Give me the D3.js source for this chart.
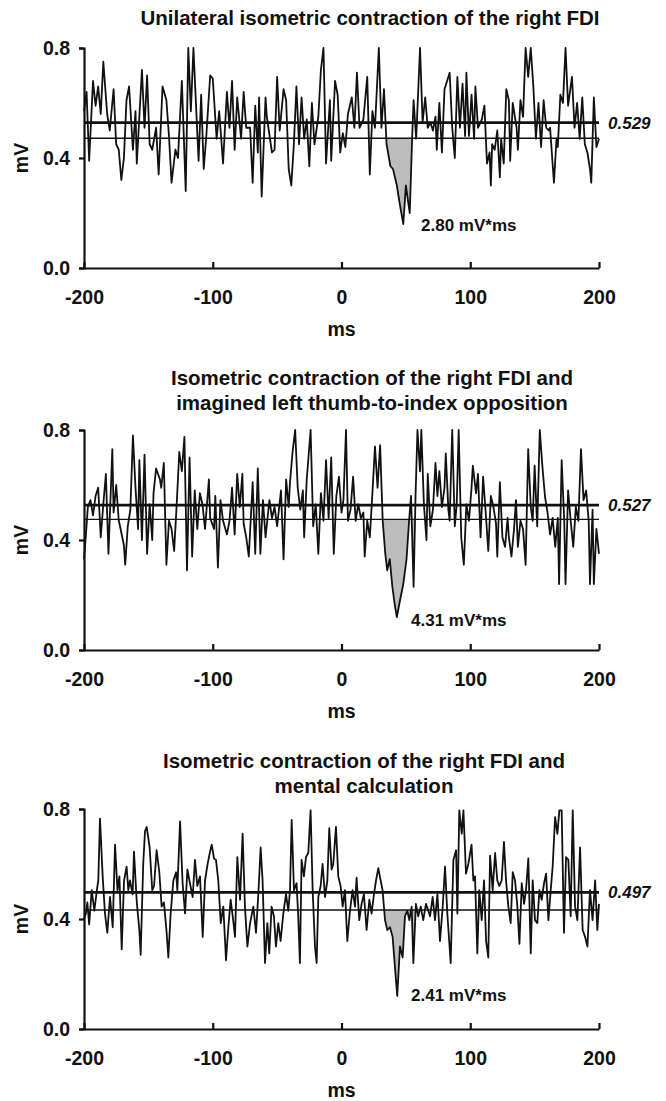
<!DOCTYPE html>
<html>
<head>
<meta charset="utf-8">
<script src="https://cdn.jsdelivr.net/npm/d3@7"></script>
<style>
  html, body { margin: 0; padding: 0; background: #fff; }
  svg { display: block; }
  text { font-family: "Liberation Sans", Arial, sans-serif; font-weight: bold; fill: #111; }
</style>
</head>
<body>
<svg id="chart" width="666" height="1101"></svg>
<script>
// ---------------- DATA ----------------
const xTicks = [-200, -100, 0, 100, 200];
const yTicks = [0.0, 0.4, 0.8];
const xLabel = "ms";
const yLabel = "mV";

// Panel 1: Unilateral isometric contraction of the right FDI
const title1 = ["Unilateral isometric contraction of the right FDI"];
const t1 = [-200,-198,-196,-193,-191,-189,-187,-185,-182,-180,-177,-175,-173,-171,-169,-167,-165,-162,-160,-159,-155,-153,-151,-149,-147,-144,-142,-139,-136,-134,-132,-129,-127,-124,-121,-119,-117,-115,-112,-111,-109,-107,-105,-102,-100,-97,-95,-92,-89,-87,-85,-83,-81,-78,-76,-74,
  -71,-69,-67,-65,-64,-62,-59,-58,-54,-52,-50,-48,-45,-43,-41,-39,-37,-35,-33,-31,-29,-27,-25,-23,-21,-18,-16,-14,-12,-9,-8,-5,-3,-1,1,3,5,8,10,12,14,17,20,22,24,26,29,31,33,35,38,40,43,45,48,50,53,55,56,58,
  61,63,65,67,69,71,73,74,76,78,80,82,84,86,88,90,92,94,96,97,99,101,103,104,106,109,111,113,115,116,117,119,121,123,124,126,128,130,131,133,136,137,139,141,143,145,147,149,151,153,155,157,159,161,162,165,167,168,170,172,174,176,179,181,183,185,187,189,191,193,194,196,198,200];
const v1 = [0.57,0.64,0.39,0.68,0.59,0.66,0.56,0.75,0.56,0.50,0.65,0.45,0.43,0.32,0.40,0.61,0.66,0.43,0.57,0.38,0.72,0.51,0.70,0.45,0.43,0.51,0.34,0.66,0.61,0.48,0.31,0.43,0.40,0.68,0.28,0.80,0.57,0.80,0.49,0.39,0.63,0.36,0.48,0.70,0.69,0.47,0.57,0.38,0.64,0.51,0.68,0.43,0.62,0.47,0.64,0.51,
  0.51,0.31,0.59,0.42,0.62,0.26,0.62,0.55,0.42,0.43,0.695,0.50,0.65,0.61,0.36,0.30,0.45,0.66,0.45,0.62,0.47,0.54,0.37,0.60,0.45,0.55,0.72,0.80,0.38,0.61,0.39,0.68,0.63,0.42,0.49,0.44,0.56,0.62,0.51,0.71,0.51,0.54,0.695,0.34,0.57,0.51,0.80,0.51,0.65,0.45,0.37,0.36,0.30,0.24,0.16,0.30,0.20,0.49,0.61,0.47,
  0.80,0.53,0.62,0.51,0.53,0.50,0.55,0.43,0.60,0.42,0.65,0.68,0.71,0.51,0.40,0.695,0.51,0.67,0.48,0.71,0.48,0.63,0.47,0.66,0.51,0.54,0.59,0.38,0.42,0.30,0.45,0.43,0.50,0.33,0.47,0.38,0.65,0.61,0.39,0.60,0.51,0.43,0.61,0.55,0.80,0.695,0.80,0.66,0.47,0.60,0.44,0.61,0.51,0.50,0.51,0.31,0.47,0.44,0.63,0.60,0.80,0.59,0.695,0.51,0.60,0.47,0.62,0.45,0.42,0.36,0.31,0.62,0.44,0.47];
const mean1 = 0.529, lower1 = 0.472, area1 = "2.80 mV*ms", shade1 = [33, 57];

// Panel 2: Isometric contraction + imagined left thumb-to-index opposition
const title2 = ["Isometric contraction of the right FDI and", "imagined left thumb-to-index opposition"];
const t2 = [-200,-198.5,-197,-195,-193,-191,-189,-187,-185,-183,-181,-178,-177,-175,-173,-172,-169,-168,-166,-164,-162,-160,-158,-157,-155,-153,-151,-149,-147,-146,-144,-141,-140,-138,-136,-134,-132,-130,-128,-126,-124,-122,-120,-118,-116,-114,-112,-110,-108,-106,-103,-102,-99,-98,-96,-94,-92,-89,-87,-85,-83,-81,-79,-77,-76,-74,
  -72,-69,-67,-65,-63,-61,-59,-56,-54,-52,-50,-47,-45,-43,-41,-40,-38,-36,-34,-32,-30,-29,-27,-24,-22,-20,-18,-16,-14,-12,-10,-8,-6,-4,-2,0,1.5,3.5,5,7,9,11,13,15,17,18,20,22,24,26,28,30,32,34,35.5,37.5,39.5,41.5,43,45,48,50.5,52.5,54,56,57.5,59,61,62,64,66,
  67,69,71,73,74.5,76,78,80,81,83,84,86,88,89.5,91,93,95,97,99,101,102,104.5,106,108,110,112,114,116,118,120,121,123,125,127,129,130,132,134,135.5,137,139,141,143,145,147,148.5,150,152,154,156,158,160,162,164,166,168,169,171,173,174,176,178,180,182,184,186,188,190,192,193,195,196,198,200];
const v2 = [0.33,0.42,0.52,0.545,0.49,0.56,0.59,0.41,0.53,0.64,0.35,0.73,0.50,0.60,0.47,0.45,0.38,0.31,0.45,0.51,0.78,0.59,0.44,0.69,0.40,0.71,0.35,0.53,0.40,0.57,0.66,0.62,0.59,0.68,0.31,0.47,0.44,0.36,0.53,0.72,0.65,0.775,0.29,0.70,0.34,0.58,0.44,0.57,0.53,0.44,0.62,0.48,0.44,0.56,0.30,0.545,0.47,0.42,0.47,0.59,0.42,0.64,0.52,0.64,0.46,0.41,
  0.34,0.61,0.35,0.66,0.35,0.545,0.41,0.545,0.48,0.52,0.45,0.58,0.33,0.62,0.52,0.61,0.72,0.80,0.59,0.51,0.58,0.41,0.62,0.80,0.45,0.53,0.35,0.57,0.47,0.69,0.48,0.70,0.35,0.56,0.63,0.50,0.545,0.80,0.47,0.51,0.63,0.47,0.53,0.48,0.50,0.34,0.47,0.41,0.57,0.74,0.59,0.745,0.47,0.35,0.29,0.33,0.23,0.16,0.12,0.17,0.24,0.33,0.47,0.56,0.23,0.56,0.80,0.65,0.80,0.53,0.40,
  0.64,0.45,0.51,0.68,0.56,0.65,0.52,0.59,0.715,0.51,0.47,0.80,0.45,0.53,0.80,0.41,0.31,0.53,0.47,0.59,0.67,0.57,0.64,0.41,0.63,0.50,0.36,0.56,0.52,0.46,0.34,0.61,0.41,0.375,0.48,0.41,0.34,0.44,0.545,0.375,0.47,0.44,0.31,0.73,0.52,0.47,0.67,0.45,0.80,0.67,0.56,0.50,0.42,0.48,0.375,0.48,0.24,0.69,0.47,0.24,0.58,0.47,0.375,0.52,0.47,0.73,0.545,0.58,0.47,0.24,0.51,0.24,0.44,0.35];
const mean2 = 0.527, lower2 = 0.475, area2 = "4.31 mV*ms", shade2 = [32, 58];

// Panel 3: Isometric contraction + mental calculation
const title3 = ["Isometric contraction of the right FDI and", "mental calculation"];
const t3 = [-200,-198.5,-197.4,-196,-194,-192,-190,-188.9,-187.6,-185.5,-183.7,-181.9,-179.8,-177.7,-175.9,-174,-172.5,-170.7,-168.9,-166.9,-165.6,-164.3,-162.2,-161.2,-159,-157,-156,-154,-152.6,-151.3,-149,-147,-145.6,-143.6,-141.5,-139.7,-137.9,-135.8,-134.5,-132.7,-130.6,-128.5,-127.5,-125.4,-123.4,-121.5,-119.7,-117.7,-115.6,-113.8,-112,-109.9,-107.8,-106,-104,-102.1,-100.8,-99,-97.5,-95.7,-93.8,-91.8,-89.7,-87.9,-86.1,-84.5,-82.7,-80.9,-78.8,-76.8,-75,-73.1,
  -71,-68.5,-66.4,-64.6,-62.8,-61.3,-59.4,-57.6,-56.1,-54.3,-52.5,-50.9,-49.1,-47.3,-45.2,-43.1,-41.3,-40,-38.7,-36.9,-34.9,-33.6,-32.3,-31,-29.2,-27.6,-25.8,-24,-22.4,-20.6,-19.3,-18,-16.2,-14.7,-12.8,-11,-9.5,-7.7,-6.4,-4.3,-2.5,-0.7,0.9,2.7,4.5,6.6,8.6,10.5,11.7,13.8,15.6,17.4,19.5,21.6,23.4,25.2,26.8,28.6,30.4,31.9,33.8,35.6,37.6,39.7,41.5,43.3,45.4,47.5,49.3,51.1,52.7,54.5,55.8,57.8,59.6,
  61.5,63.5,65.6,67.4,68.8,70.8,72.6,74.5,76.5,78.6,80.4,82.2,84.8,86.9,89,90,91.5,93.4,94.7,96.7,98.5,101,102.4,103.7,105.5,107,108.9,110.7,112.3,114,115.4,117.4,119.3,121,122.6,124.4,126.2,127.8,129.6,131.4,133,134.8,136.6,138.2,140,141.8,143.3,145.1,147,148.5,150.3,152.1,153.7,155.5,157.3,158.9,160.7,162.5,164,165.9,167.7,169.2,171,172.8,174.4,176.2,178,179.6,181.4,183.2,185.3,187.3,189.2,191,193,195,197,198.7,200];
const v3 = [0.40,0.42,0.46,0.38,0.505,0.43,0.505,0.54,0.765,0.555,0.42,0.35,0.48,0.37,0.67,0.505,0.555,0.29,0.54,0.59,0.505,0.54,0.49,0.645,0.46,0.36,0.27,0.60,0.72,0.735,0.66,0.505,0.52,0.65,0.57,0.445,0.46,0.35,0.26,0.42,0.54,0.57,0.505,0.755,0.53,0.42,0.58,0.53,0.48,0.615,0.52,0.555,0.335,0.54,0.60,0.645,0.67,0.62,0.615,0.54,0.385,0.445,0.25,0.37,0.47,0.41,0.335,0.625,0.47,0.71,0.445,0.30,
  0.385,0.445,0.35,0.49,0.66,0.54,0.24,0.385,0.275,0.445,0.41,0.30,0.385,0.32,0.42,0.49,0.43,0.505,0.76,0.505,0.53,0.41,0.24,0.615,0.555,0.625,0.64,0.795,0.505,0.30,0.24,0.48,0.52,0.60,0.48,0.54,0.73,0.58,0.60,0.735,0.555,0.52,0.445,0.505,0.32,0.43,0.505,0.445,0.55,0.396,0.455,0.49,0.36,0.47,0.42,0.49,0.54,0.585,0.54,0.505,0.396,0.36,0.37,0.335,0.226,0.12,0.30,0.26,0.41,0.43,0.396,0.445,0.24,0.455,0.41,
  0.445,0.396,0.455,0.43,0.41,0.48,0.396,0.49,0.32,0.445,0.59,0.42,0.24,0.615,0.65,0.42,0.795,0.71,0.795,0.565,0.60,0.67,0.54,0.555,0.275,0.505,0.396,0.54,0.32,0.26,0.63,0.505,0.64,0.54,0.52,0.54,0.68,0.54,0.445,0.385,0.57,0.54,0.445,0.31,0.53,0.455,0.505,0.62,0.275,0.54,0.396,0.385,0.505,0.47,0.53,0.565,0.396,0.505,0.59,0.77,0.71,0.795,0.795,0.35,0.625,0.615,0.41,0.795,0.445,0.396,0.66,0.36,0.335,0.30,0.505,0.396,0.54,0.36,0.455];
const mean3 = 0.497, lower3 = 0.433, area3 = "2.41 mV*ms", shade3 = [32, 57];

// ---------------- LAYOUT ----------------
const panels = [
  { title: title1, t: t1, v: v1, mean: mean1, lower: lower1, area: area1, shade: shade1,
    top: 48, bottom: 268, titleY: 25, titleX: 370, areaPos: [421, 231] },
  { title: title2, t: t2, v: v2, mean: mean2, lower: lower2, area: area2, shade: shade2,
    top: 430, bottom: 650, titleY: 385, titleX: 372, areaPos: [411, 626] },
  { title: title3, t: t3, v: v3, mean: mean3, lower: lower3, area: area3, shade: shade3,
    top: 809, bottom: 1029, titleY: 768, titleX: 364, areaPos: [411, 1001] }
];

const svg = d3.select("#chart");
svg.append("rect").attr("width", 666).attr("height", 1101).attr("fill", "#fff");

const x = d3.scaleLinear().domain([-200, 200]).range([84, 599]);

panels.forEach((p, i) => {
  const y = d3.scaleLinear().domain([0, 0.8]).range([p.bottom, p.top]);
  const g = svg.append("g");
  const data = p.t.map((t, k) => ({ t, v: p.v[k] }));

  // shaded area between trace and lower line inside the window
  const win = [];
  for (let k = 0; k < data.length - 1; k++) {
    const a = data[k], b = data[k + 1];
    if (b.t < p.shade[0] || a.t > p.shade[1]) continue;
    win.push(a);
    const da = a.v - p.lower, db = b.v - p.lower;
    if (da * db < 0) {
      const f = da / (da - db);
      win.push({ t: a.t + f * (b.t - a.t), v: p.lower });
    }
  }
  const shadePts = win.filter(d => d.t >= p.shade[0] - 3 && d.t <= p.shade[1] + 3);
  g.append("path")
    .datum(shadePts)
    .attr("fill", "#bdbdbd")
    .attr("d", d3.area()
      .x(d => x(d.t))
      .y0(y(p.lower))
      .y1(d => y(Math.min(d.v, p.lower))));

  // trace
  g.append("path")
    .datum(data)
    .attr("fill", "none")
    .attr("stroke", "#111")
    .attr("stroke-width", 1.8)
    .attr("stroke-linejoin", "round")
    .attr("d", d3.line().x(d => x(d.t)).y(d => y(d.v)));

  // reference lines
  g.append("line")
    .attr("x1", x(-200)).attr("x2", x(200))
    .attr("y1", y(p.mean)).attr("y2", y(p.mean))
    .attr("stroke", "#111").attr("stroke-width", 2.8);
  g.append("line")
    .attr("x1", x(-200)).attr("x2", x(200))
    .attr("y1", y(p.lower)).attr("y2", y(p.lower))
    .attr("stroke", "#111").attr("stroke-width", 1.4);

  // axes
  const xa = g.append("g")
    .attr("transform", `translate(0,${p.bottom})`)
    .call(d3.axisBottom(x).tickValues(xTicks).tickSizeInner(-6).tickSizeOuter(0).tickFormat(d => String(d)));
  xa.selectAll("text").attr("y", 36).attr("dy", null)
    .style("font-size", "19.5px").style("font-family", '"Liberation Sans", Arial, sans-serif').style("font-weight", "bold");
  const ya = g.append("g")
    .attr("transform", `translate(${x(-200)},0)`)
    .call(d3.axisLeft(y).tickValues(yTicks).tickSize(5).tickPadding(9).tickFormat(d3.format(".1f")));
  ya.selectAll("text")
    .style("font-size", "19.5px").style("font-family", '"Liberation Sans", Arial, sans-serif').style("font-weight", "bold");
  [xa, ya].forEach(a => {
    a.select(".domain").attr("stroke", "#111").attr("stroke-width", 2.2);
    a.selectAll(".tick line").attr("stroke", "#111").attr("stroke-width", 2.2);
    a.selectAll("text").attr("fill", "#111");
  });

  // axis titles
  g.append("text")
    .attr("x", (x(-200) + x(200)) / 2).attr("y", p.bottom + 68)
    .attr("text-anchor", "middle").style("font-size", "19.5px")
    .text(xLabel);
  g.append("text")
    .attr("transform", `translate(28,${y(0.4)}) rotate(-90)`)
    .attr("text-anchor", "middle").style("font-size", "19.5px")
    .text(yLabel);

  // panel title
  p.title.forEach((line, j) => {
    g.append("text")
      .attr("x", p.titleX).attr("y", p.titleY + j * 25)
      .attr("text-anchor", "middle").style("font-size", "20.5px")
      .text(line);
  });

  // mean value label
  g.append("text")
    .attr("x", 608).attr("y", y(p.mean) + 6)
    .style("font-size", "17px").style("font-style", "italic")
    .text(p.mean.toFixed(3));

  // area annotation
  g.append("text")
    .attr("x", p.areaPos[0]).attr("y", p.areaPos[1])
    .style("font-size", "17px")
    .text(p.area);
});
</script>
</body>
</html>
